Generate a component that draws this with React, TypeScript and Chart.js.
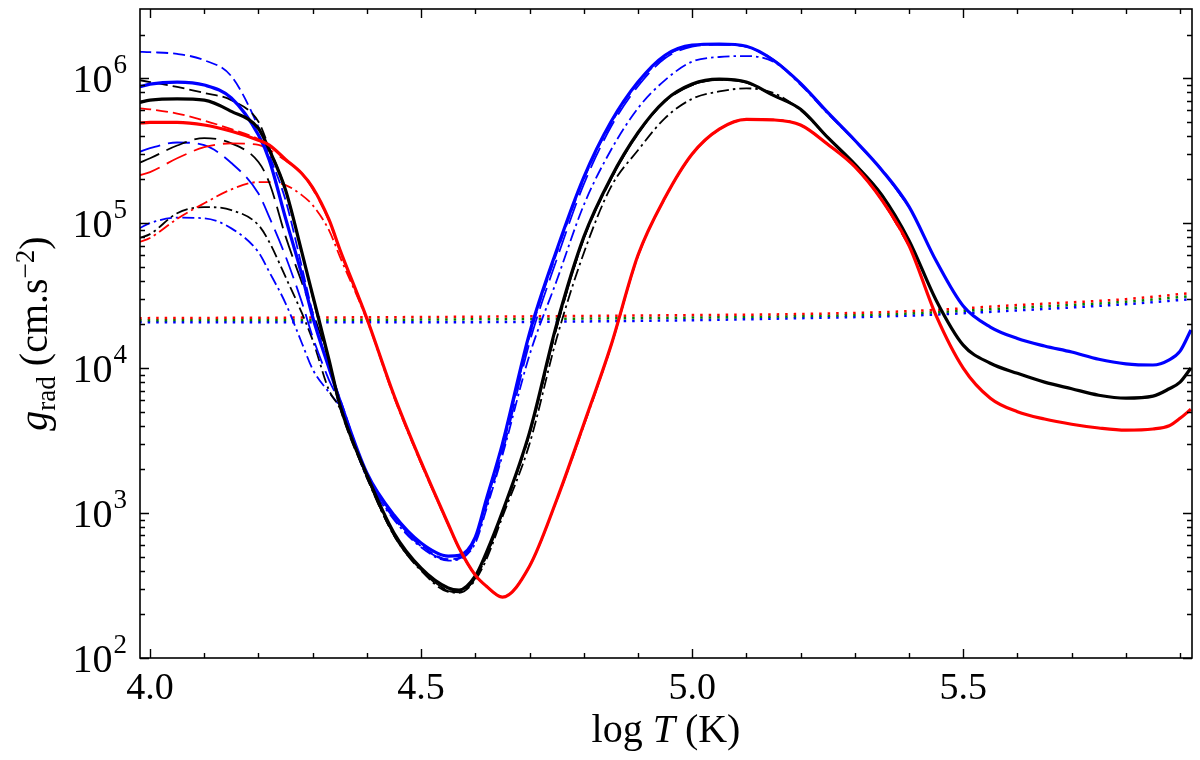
import React, { useEffect, useRef } from "react";
import { Chart, registerables } from "chart.js";
Chart.register(...registerables);

// ---------- data (log T grid and g_rad values in cm s^-2) ----------
const logT = [3.98, 4.0, 4.05, 4.1, 4.15, 4.2, 4.22, 4.25, 4.28, 4.3, 4.33, 4.35, 4.4, 4.45, 4.5, 4.55, 4.57, 4.6, 4.62, 4.65, 4.7, 4.75, 4.8, 4.85, 4.9, 4.95, 5.0, 5.05, 5.1, 5.15, 5.2, 5.25, 5.3, 5.35, 5.4, 5.45, 5.5, 5.55, 5.6, 5.65, 5.7, 5.75, 5.8, 5.85, 5.88, 5.9, 5.92];

const redSolid = [4.9e5, 4.95e5, 4.95e5, 4.75e5, 4.3e5, 3.73e5, 3.45e5, 2.75e5, 2.2e5, 1.76e5, 1.06e5, 6.6e4, 2.2e4, 6.5e3, 2.25e3, 840, 574, 373, 314, 263, 430, 1.23e3, 4.1e3, 1.42e4, 6.0e4, 1.5e5, 3.0e5, 4.45e5, 5.2e5, 5.15e5, 4.75e5, 3.5e5, 2.45e5, 1.44e5, 7.0e4, 2.3e4, 1.0e4, 6.2e3, 5.0e3, 4.45e3, 4.1e3, 3.86e3, 3.73e3, 3.8e3, 4.0e3, 4.5e3, 5.2e3];
const blackSolid = [6.8e5, 7.05e5, 7.2e5, 7.05e5, 5.9e5, 4.5e5, 3.2e5, 1.69e5, 6.3e4, 3.18e4, 1.15e4, 5.6e3, 1.83e3, 728, 417, 304, 294, 368, 530, 1.02e3, 3.6e3, 2.0e4, 8.0e4, 2.05e5, 4.2e5, 7.0e5, 9.1e5, 9.85e5, 9.4e5, 7.6e5, 6.1e5, 3.9e5, 2.55e5, 1.56e5, 7.6e4, 2.94e4, 1.44e4, 1.08e4, 9.2e3, 8.0e3, 7.2e3, 6.5e3, 6.2e3, 6.4e3, 7.2e3, 8.0e3, 1.0e4];
const blueSolid = [8.7e5, 9.1e5, 9.4e5, 8.96e5, 7.3e5, 4.05e5, 2.72e5, 1.08e5, 4.4e4, 2.25e4, 1.0e4, 6.0e3, 1.89e3, 968, 621, 505, 510, 682, 1.23e3, 3.0e3, 1.74e4, 6.5e4, 2.07e5, 4.98e5, 9.4e5, 1.44e6, 1.69e6, 1.72e6, 1.66e6, 1.33e6, 9.2e5, 5.8e5, 3.73e5, 2.32e5, 1.3e5, 5.5e4, 2.68e4, 1.92e4, 1.6e4, 1.42e4, 1.29e4, 1.15e4, 1.07e4, 1.05e4, 1.14e4, 1.31e4, 1.83e4];

// thin curves (first 35 grid points, up to log T = 5.4)
const blueShortDash = [1.52e6, 1.51e6, 1.47e6, 1.33e6, 1.03e6, 4.6e5, 2.94e5, 1.44e5, 5.0e4, 2.4e4, 1.0e4, 6.2e3, 1.85e3, 940, 600, 480, 490, 660, 1.18e3, 2.8e3, 1.65e4, 6.2e4, 2.0e5, 4.85e5, 9.2e5, 1.41e6, 1.67e6, 1.71e6, 1.65e6, 1.33e6, 9.2e5, 5.8e5, 3.7e5, 2.32e5, 1.3e5];
const blueLongDash = [3.1e5, 3.29e5, 3.6e5, 3.45e5, 2.6e5, 1.6e5, 1.1e5, 5.9e4, 2.85e4, 1.64e4, 8.3e3, 5.8e3, 1.8e3, 920, 590, 475, 485, 640, 1.1e3, 2.6e3, 1.5e4, 5.6e4, 1.85e5, 4.6e5, 8.8e5, 1.37e6, 1.65e6, 1.7e6, 1.65e6, 1.34e6, 9.2e5, 5.8e5, 3.7e5, 2.32e5, 1.3e5];
const blueDashDot = [9.2e4, 1.0e5, 1.09e5, 1.08e5, 9.2e4, 6.3e4, 4.6e4, 2.8e4, 1.49e4, 9.8e3, 6.8e3, 5.4e3, 1.75e3, 900, 580, 470, 480, 620, 1.05e3, 2.5e3, 1.23e4, 4.0e4, 1.33e5, 3.18e5, 6.2e5, 9.7e5, 1.3e6, 1.4e6, 1.42e6, 1.3e6, 9.0e5, 5.7e5, 3.7e5, 2.32e5, 1.3e5];
const blackShortDash = [9.7e5, 9.4e5, 8.7e5, 7.9e5, 7.05e5, 5.0e5, 3.3e5, 1.7e5, 6.3e4, 3.1e4, 1.1e4, 5.4e3, 1.78e3, 700, 405, 292, 285, 355, 500, 1.0e3, 3.5e3, 1.9e4, 7.8e4, 2.0e5, 4.15e5, 6.95e5, 9.0e5, 9.8e5, 9.35e5, 7.6e5, 6.1e5, 3.9e5, 2.55e5, 1.56e5, 7.6e4];
const blackLongDash = [2.6e5, 2.8e5, 3.43e5, 3.86e5, 3.55e5, 2.64e5, 1.9e5, 8.1e4, 3.9e4, 2.43e4, 1.12e4, 5.8e3, 1.78e3, 705, 405, 290, 284, 355, 500, 1.0e3, 3.5e3, 1.9e4, 7.8e4, 2.0e5, 4.15e5, 6.9e5, 8.95e5, 9.75e5, 9.3e5, 7.6e5, 6.1e5, 3.9e5, 2.55e5, 1.56e5, 7.6e4];
const blackDashDot = [7.9e4, 8.4e4, 1.17e5, 1.29e5, 1.23e5, 9.7e4, 7.4e4, 4.25e4, 2.4e4, 1.56e4, 7.05e3, 5.3e3, 1.75e3, 700, 400, 286, 282, 345, 475, 940, 3.0e3, 1.6e4, 6.2e4, 1.77e5, 3.18e5, 5.3e5, 7.2e5, 8.1e5, 8.5e5, 7.9e5, 6.0e5, 3.9e5, 2.55e5, 1.56e5, 7.6e4];
const redShortDash = [6.2e5, 6.1e5, 5.7e5, 5.1e5, 4.45e5, 3.8e5, 3.45e5, 2.75e5, 2.2e5, 1.76e5, 1.06e5, 6.6e4, 2.2e4, 6.5e3, 2.25e3, 840, 574, 373, 314, 263, 430, 1.23e3, 4.1e3, 1.42e4, 6.0e4, 1.5e5, 3.0e5, 4.45e5, 5.2e5, 5.15e5, 4.75e5, 3.5e5, 2.45e5, 1.44e5, 7.0e4];
const redLongDash = [2.14e5, 2.25e5, 2.8e5, 3.34e5, 3.55e5, 3.46e5, 3.2e5, 2.7e5, 2.2e5, 1.72e5, 1.04e5, 6.5e4, 2.2e4, 6.4e3, 2.2e3, 830, 570, 372, 314, 263, 430, 1.22e3, 4.0e3, 1.4e4, 5.9e4, 1.49e5, 2.98e5, 4.43e5, 5.18e5, 5.15e5, 4.75e5, 3.5e5, 2.45e5, 1.44e5, 7.0e4];
const redDashDot = [7.4e4, 7.9e4, 1.07e5, 1.37e5, 1.71e5, 1.92e5, 1.92e5, 1.83e5, 1.56e5, 1.33e5, 8.95e4, 5.9e4, 2.15e4, 6.3e3, 2.2e3, 830, 570, 372, 314, 263, 430, 1.22e3, 4.0e3, 1.4e4, 5.9e4, 1.49e5, 2.98e5, 4.43e5, 5.18e5, 5.15e5, 4.75e5, 3.5e5, 2.45e5, 1.44e5, 7.0e4];

// dotted (nearly flat) curves
const dotLogT = [3.98, 4.5, 5.0, 5.2, 5.4, 5.6, 5.8, 5.92];
const redDotted = [2.21e4, 2.25e4, 2.32e4, 2.36e4, 2.47e4, 2.72e4, 2.99e4, 3.29e4];
const greenDotted = [2.14e4, 2.16e4, 2.23e4, 2.28e4, 2.38e4, 2.61e4, 2.87e4, 3.14e4];
const blueDotted = [2.07e4, 2.07e4, 2.14e4, 2.21e4, 2.3e4, 2.5e4, 2.76e4, 2.99e4];

// axes
const xMin = 3.9815;
const xMax = 5.922;
const yMin = 100;
const yMax = 3e6;
const xMajorTicks = [4.0, 4.5, 5.0, 5.5];
const xTickLabels = ["4.0", "4.5", "5.0", "5.5"];
const xMinorTicks = [4.1, 4.2, 4.3, 4.4, 4.6, 4.7, 4.8, 4.9, 5.1, 5.2, 5.3, 5.4, 5.6, 5.7, 5.8, 5.9];
const yMajorTicks = [1e2, 1e3, 1e4, 1e5, 1e6];
const yTickExponents = ["2", "3", "4", "5", "6"];
const yMinorMantissas = [2, 3, 4, 5, 6, 7, 8, 9];

const FONT = '"Liberation Serif", "Times New Roman", serif';
const RED = "#ff0000";
const BLACK = "#000000";
const BLUE = "#0000ff";
const GREEN = "#008000";

function pts(xs: number[], ys: number[]) {
  return ys.map((y, i) => ({ x: xs[i], y }));
}

const SHORT = [12, 5];
const LONG = [22, 8];
const DASHDOT = [12, 4, 2.5, 4];
const DOT = [2.5, 6];

function line(data: number[], color: string, width: number, dash: number[], order: number, xs = logT) {
  return {
    data: pts(xs, data),
    borderColor: color,
    backgroundColor: color,
    borderWidth: width,
    borderDash: dash,
    pointRadius: 0,
    fill: false,
    cubicInterpolationMode: "monotone" as const,
    order,
    clip: 0,
    borderCapStyle: "butt" as const,
    borderJoinStyle: "round" as const,
  };
}

const axesPlugin = {
  id: "mplAxes",
  afterDatasetsDraw(chart: any) {
    const { ctx, chartArea: a, scales } = chart;
    const sx = scales.x;
    const sy = scales.y;
    ctx.save();
    ctx.strokeStyle = "#000";
    ctx.fillStyle = "#000";
    ctx.lineWidth = 1.4;
    ctx.beginPath();
    const MAJ = 9;
    const MIN = 5;
    xMajorTicks.forEach((t) => {
      const p = Math.round(sx.getPixelForValue(t)) + 0.5;
      ctx.moveTo(p, a.bottom); ctx.lineTo(p, a.bottom - MAJ);
      ctx.moveTo(p, a.top); ctx.lineTo(p, a.top + MAJ);
    });
    xMinorTicks.forEach((t) => {
      const p = Math.round(sx.getPixelForValue(t)) + 0.5;
      ctx.moveTo(p, a.bottom); ctx.lineTo(p, a.bottom - MIN);
      ctx.moveTo(p, a.top); ctx.lineTo(p, a.top + MIN);
    });
    yMajorTicks.forEach((t) => {
      const p = Math.round(sy.getPixelForValue(t)) + 0.5;
      ctx.moveTo(a.left, p); ctx.lineTo(a.left + MAJ, p);
      ctx.moveTo(a.right, p); ctx.lineTo(a.right - MAJ, p);
    });
    yMajorTicks.forEach((dec) => {
      yMinorMantissas.forEach((m) => {
        const v = dec * m;
        if (v >= yMax * 0.999) return;
        const p = Math.round(sy.getPixelForValue(v)) + 0.5;
        ctx.moveTo(a.left, p); ctx.lineTo(a.left + MIN, p);
        ctx.moveTo(a.right, p); ctx.lineTo(a.right - MIN, p);
      });
    });
    ctx.stroke();
    ctx.lineWidth = 1.6;
    ctx.strokeRect(a.left, a.top, a.right - a.left, a.bottom - a.top);

    // x tick labels
    ctx.font = `38px ${FONT}`;
    ctx.textAlign = "center";
    ctx.textBaseline = "alphabetic";
    xMajorTicks.forEach((t, i) => {
      ctx.fillText(xTickLabels[i], sx.getPixelForValue(t), a.bottom + 41);
    });

    // y tick labels 10^n
    yMajorTicks.forEach((t, i) => {
      const p = sy.getPixelForValue(t);
      const rightEdge = a.left - 13;
      ctx.textAlign = "right";
      ctx.font = `27px ${FONT}`;
      ctx.fillText(yTickExponents[i], rightEdge, p - 5);
      const w = ctx.measureText(yTickExponents[i]).width;
      ctx.font = `40px ${FONT}`;
      ctx.fillText("10", rightEdge - w - 1, p + 14);
    });

    // x title: log T (K)
    const xParts: [string, string][] = [["log ", `40px ${FONT}`], ["T", `italic 40px ${FONT}`], [" (K)", `40px ${FONT}`]];
    let total = 0;
    xParts.forEach(([s, f]) => { ctx.font = f; total += ctx.measureText(s).width; });
    let cx = (a.left + a.right) / 2 - total / 2;
    ctx.textAlign = "left";
    xParts.forEach(([s, f]) => {
      ctx.font = f;
      ctx.fillText(s, cx, 742);
      cx += ctx.measureText(s).width;
    });

    // y title: g_rad (cm.s^-2)
    const yParts: [string, string, number][] = [
      ["g", `italic 40px ${FONT}`, 0],
      ["rad", `27px ${FONT}`, 8],
      [" (cm.s", `40px ${FONT}`, 0],
      ["\u22122", `27px ${FONT}`, -13],
      [")", `40px ${FONT}`, 0],
    ];
    let ytot = 0;
    yParts.forEach(([s, f]) => { ctx.font = f; ytot += ctx.measureText(s).width; });
    ctx.translate(47, (a.top + a.bottom) / 2);
    ctx.rotate(-Math.PI / 2);
    let yx = -ytot / 2;
    yParts.forEach(([s, f, dy]) => {
      ctx.font = f;
      ctx.fillText(s, yx, dy);
      yx += ctx.measureText(s).width;
    });
    ctx.restore();
  },
};

export default function App() {
  const ref = useRef<HTMLCanvasElement>(null);
  useEffect(() => {
    const datasets: any[] = [
      line(redSolid, RED, 3.2, [], 0),
      line(blackSolid, BLACK, 3.2, [], 0),
      line(blueSolid, BLUE, 3.2, [], 0),
      line(redShortDash, RED, 1.8, SHORT, 1),
      line(blackShortDash, BLACK, 1.8, SHORT, 1),
      line(blueShortDash, BLUE, 1.8, SHORT, 1),
      line(redLongDash, RED, 1.8, LONG, 1),
      line(blackLongDash, BLACK, 1.8, LONG, 1),
      line(blueLongDash, BLUE, 1.8, LONG, 1),
      line(redDashDot, RED, 1.8, DASHDOT, 1),
      line(blackDashDot, BLACK, 1.8, DASHDOT, 1),
      line(blueDashDot, BLUE, 1.8, DASHDOT, 1),
      line(redDotted, RED, 2.5, DOT, 2, dotLogT),
      line(greenDotted, GREEN, 2.5, DOT, 2, dotLogT),
      line(blueDotted, BLUE, 2.5, DOT, 2, dotLogT),
    ];
    const chart = new Chart(ref.current as HTMLCanvasElement, {
      type: "line",
      data: { datasets },
      options: {
        animation: false,
        responsive: false,
        events: [],
        layout: { padding: { left: 140, right: 8, top: 9, bottom: 102 } },
        plugins: { legend: { display: false }, tooltip: { enabled: false } },
        scales: {
          x: { type: "linear", min: xMin, max: xMax, display: false },
          y: { type: "logarithmic", min: yMin, max: yMax, display: false },
        },
      },
      plugins: [axesPlugin],
    } as any);
    return () => chart.destroy();
  }, []);
  return (
    <div style={{ position: "absolute", left: 0, top: 0, width: 1200, height: 760, background: "#fff" }}>
      <canvas ref={ref} width={1200} height={760} style={{ display: "block", width: "1200px", height: "760px" }} />
    </div>
  );
}
